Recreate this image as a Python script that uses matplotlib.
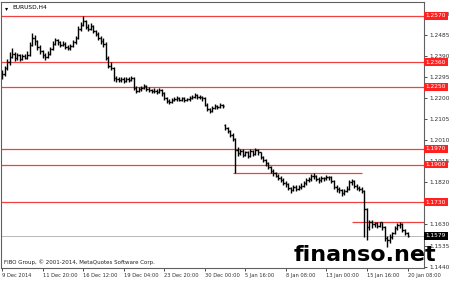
import numpy as np
import matplotlib
matplotlib.use("Agg")
import matplotlib.pyplot as plt
from matplotlib import transforms

# EURUSD H4 bars, 9 Dec 2014 .. 20 Jan 2015
closes = [
    1.2310, 1.2335, 1.2360, 1.2385, 1.2398,
    1.2380, 1.2392, 1.2375, 1.2388, 1.2382, 1.2395,
    1.2440, 1.2470, 1.2455, 1.2430,
    1.2410, 1.2395, 1.2385, 1.2400,
    1.2420, 1.2445, 1.2460, 1.2450,
    1.2440, 1.2445, 1.2430, 1.2425, 1.2432,
    1.2450, 1.2470, 1.2510, 1.2530, 1.2545, 1.2520,
    1.2510, 1.2525, 1.2500, 1.2490, 1.2470, 1.2455, 1.2445,
    1.2380, 1.2345, 1.2335,
    1.2290,
    1.2285, 1.2280, 1.2285, 1.2278, 1.2283, 1.2280, 1.2288,
    1.2245, 1.2232,
    1.2238, 1.2245, 1.2252, 1.2240, 1.2235, 1.2230,
    1.2232, 1.2228, 1.2235, 1.2220,
    1.2200, 1.2185, 1.2182, 1.2190,
    1.2195, 1.2200, 1.2192, 1.2198,
    1.2190, 1.2193, 1.2200, 1.2205, 1.2212, 1.2202,
    1.2205, 1.2198,
    1.2170, 1.2150, 1.2140, 1.2155,
    1.2165, 1.2160, 1.2168, 1.2163,
    1.2065, 1.2050, 1.2035, 1.2015,
    1.1965, 1.1950, 1.1960,
    1.1945, 1.1955, 1.1940, 1.1960, 1.1948, 1.1965, 1.1955,
    1.1935, 1.1920,
    1.1905, 1.1890, 1.1870,
    1.1860, 1.1850, 1.1840, 1.1830, 1.1818, 1.1812,
    1.1795, 1.1785, 1.1800, 1.1792, 1.1798, 1.1805,
    1.1815, 1.1830, 1.1835, 1.1850, 1.1848,
    1.1835, 1.1830, 1.1840, 1.1838, 1.1845, 1.1842, 1.1825,
    1.1800, 1.1790, 1.1785, 1.1770, 1.1780, 1.1790,
    1.1820, 1.1825,
    1.1805, 1.1795, 1.1790, 1.1780,
    1.1700, 1.1620,
    1.1640, 1.1630,
    1.1638, 1.1625, 1.1640, 1.1620,
    1.1570, 1.1560,
    1.1575, 1.1590,
    1.1615, 1.1628, 1.1632,
    1.1605, 1.1590, 1.1579,
]
highs = [
    1.2325, 1.2345, 1.2375, 1.2405, 1.2425,
    1.2408, 1.2402, 1.2398, 1.2396, 1.2400, 1.2410,
    1.2452, 1.2492, 1.2482, 1.2462,
    1.2438, 1.2415, 1.2402, 1.2410,
    1.2430, 1.2455, 1.2472, 1.2466,
    1.2458, 1.2455, 1.2450, 1.2438, 1.2442,
    1.2460, 1.2480, 1.2522, 1.2540, 1.2569, 1.2552,
    1.2532, 1.2538, 1.2530, 1.2508, 1.2495, 1.2478, 1.2468,
    1.2450, 1.2390, 1.2360,
    1.2340,
    1.2300, 1.2294, 1.2295, 1.2292, 1.2293, 1.2296, 1.2300,
    1.2292, 1.2252,
    1.2248, 1.2255, 1.2262, 1.2258, 1.2248, 1.2242,
    1.2245, 1.2240, 1.2244, 1.2240,
    1.2225, 1.2205, 1.2195, 1.2200,
    1.2205, 1.2210, 1.2206, 1.2206,
    1.2202, 1.2200, 1.2208, 1.2212, 1.2220, 1.2216,
    1.2212, 1.2210,
    1.2202, 1.2175, 1.2156, 1.2162,
    1.2172, 1.2170, 1.2175, 1.2172,
    1.2082, 1.2070, 1.2055, 1.2040,
    1.2020, 1.1978, 1.1972,
    1.1968, 1.1962, 1.1960, 1.1970, 1.1966, 1.1975, 1.1970,
    1.1958, 1.1940,
    1.1925, 1.1910, 1.1895,
    1.1878, 1.1868, 1.1858, 1.1848, 1.1838, 1.1825,
    1.1815, 1.1800, 1.1810, 1.1808, 1.1806, 1.1815,
    1.1825, 1.1840, 1.1845, 1.1858, 1.1862,
    1.1855, 1.1842, 1.1848, 1.1846, 1.1852, 1.1850, 1.1848,
    1.1830, 1.1808, 1.1800, 1.1792, 1.1790, 1.1805,
    1.1830, 1.1835,
    1.1830, 1.1812, 1.1805, 1.1798,
    1.1785, 1.1705,
    1.1650, 1.1648,
    1.1643, 1.1642, 1.1643, 1.1642,
    1.1625, 1.1578,
    1.1585, 1.1598,
    1.1625, 1.1636, 1.1640,
    1.1636, 1.1610, 1.1595,
]
lows = [
    1.2285, 1.2300, 1.2325, 1.2350, 1.2378,
    1.2368, 1.2372, 1.2365, 1.2370, 1.2374, 1.2376,
    1.2390, 1.2432, 1.2440, 1.2418,
    1.2398, 1.2380, 1.2372, 1.2378,
    1.2395, 1.2415, 1.2438, 1.2440,
    1.2430, 1.2432, 1.2420, 1.2415, 1.2418,
    1.2428, 1.2445, 1.2465, 1.2500, 1.2525, 1.2510,
    1.2500, 1.2505, 1.2492, 1.2478, 1.2460, 1.2445, 1.2430,
    1.2370, 1.2335, 1.2325,
    1.2276,
    1.2272, 1.2270, 1.2272, 1.2268, 1.2270, 1.2272, 1.2274,
    1.2235, 1.2222,
    1.2225, 1.2230, 1.2238, 1.2230, 1.2225, 1.2220,
    1.2222, 1.2218, 1.2222, 1.2210,
    1.2190, 1.2176, 1.2174, 1.2178,
    1.2184, 1.2188, 1.2184, 1.2186,
    1.2182, 1.2184, 1.2188, 1.2194, 1.2198, 1.2194,
    1.2195, 1.2188,
    1.2162, 1.2142, 1.2130, 1.2136,
    1.2150, 1.2152, 1.2156, 1.2156,
    1.2055, 1.2040, 1.2025, 1.2008,
    1.1861, 1.1940, 1.1942,
    1.1935, 1.1938, 1.1930, 1.1935, 1.1940, 1.1942, 1.1945,
    1.1925, 1.1910,
    1.1895, 1.1878, 1.1860,
    1.1850, 1.1842, 1.1830, 1.1820, 1.1808, 1.1800,
    1.1785, 1.1772, 1.1780, 1.1782, 1.1785, 1.1790,
    1.1800, 1.1808, 1.1822, 1.1828, 1.1836,
    1.1825, 1.1818, 1.1822, 1.1826, 1.1830, 1.1832, 1.1815,
    1.1790, 1.1778, 1.1770, 1.1758, 1.1762, 1.1775,
    1.1785, 1.1808,
    1.1795, 1.1785, 1.1780, 1.1770,
    1.1574, 1.1560,
    1.1605, 1.1615,
    1.1620, 1.1612, 1.1618, 1.1605,
    1.1555, 1.1529,
    1.1548, 1.1565,
    1.1585, 1.1605, 1.1615,
    1.1598, 1.1582, 1.1572,
]
first_open = 1.2295
gap_opens = {88: 1.2078}  # new-year gap

x_ticks = [0, 16, 32, 48, 64, 80, 96, 112, 128, 144, 160]
x_labels = ["9 Dec 2014", "11 Dec 20:00", "16 Dec 12:00", "19 Dec 04:00",
            "23 Dec 20:00", "30 Dec 00:00", "5 Jan 16:00", "8 Jan 08:00",
            "13 Jan 00:00", "15 Jan 16:00", "20 Jan 08:00"]
y_ticks = [1.2580, 1.2485, 1.2390, 1.2295, 1.2200, 1.2105, 1.2010,
           1.1915, 1.1820, 1.1725, 1.1630, 1.1535, 1.1440]
hidden_ticks = [1.1725]  # sits fully under the 1.1730 marker

levels = [1.2570, 1.2360, 1.2250, 1.1970, 1.1900, 1.1730]
short_levels = [(1.1861, 91.3, 142.1), (1.1643, 138.2, 166.5)]
last_price = 1.1579

opens = [first_open] + closes[:-1]
for k, v in gap_opens.items():
    opens[k] = v

x = np.arange(len(closes))

fig = plt.figure(figsize=(4.5, 2.82), dpi=100)
ax = fig.add_axes([0.0022, 0.0496, 0.94, 0.9433])
ax.set_xlim(-0.4, 166.5)
ax.set_ylim(1.1434, 1.2632)

red = "#f04040"
for lv in levels:
    ax.axhline(lv, color=red, lw=0.9, zorder=1)
for lv, x0, x1 in short_levels:
    ax.hlines(lv, x0, x1, color=red, lw=0.9, zorder=1)
ax.axhline(last_price, color="#b8b8b8", lw=0.7, zorder=1)

# OHLC bars
ax.vlines(x, lows, highs, color="black", lw=1.0, zorder=2)
ax.hlines(opens, x - 0.5, x, color="black", lw=1.0, zorder=2)
ax.hlines(closes, x, x + 0.5, color="black", lw=1.0, zorder=2)

for s in ax.spines.values():
    s.set_color("#606060")
    s.set_linewidth(0.8)

ax.yaxis.tick_right()
ax.set_yticks(y_ticks)
ax.set_yticklabels(["" if v in hidden_ticks else "%.4f" % v for v in y_ticks])
ax.tick_params(axis="y", length=2, width=0.6, pad=2, labelsize=4.2, colors="#303030")
ax.set_xticks(x_ticks)
ax.set_xticklabels(x_labels, ha="left")
ax.tick_params(axis="x", length=2, width=0.6, pad=1.5, labelsize=3.7, colors="#303030")

tr = transforms.blended_transform_factory(ax.transAxes, ax.transData)
for lv in levels:
    ax.text(1.004, lv, "%.4f" % lv, transform=tr, ha="left", va="center",
            fontsize=4.2, color="white", clip_on=False, zorder=5,
            bbox=dict(boxstyle="square,pad=0.25", fc="#ff2020", ec="none"))
ax.text(1.004, last_price, "%.4f" % last_price, transform=tr, ha="left", va="center",
        fontsize=4.2, color="white", clip_on=False, zorder=5,
        bbox=dict(boxstyle="square,pad=0.25", fc="black", ec="none"))

ax.text(0.01, 0.985, "\u25be", transform=ax.transAxes, fontsize=4.5, va="top", ha="left")
ax.text(0.028, 0.988, "EURUSD,H4", transform=ax.transAxes, fontsize=4.2, va="top", ha="left")
ax.text(0.008, 0.012, "FIBO Group, \u00a9 2001-2014, MetaQuotes Software Corp.",
        transform=ax.transAxes, fontsize=4.0, va="bottom", ha="left", color="#202020")

fig.text(294 / 450, 1 - 261 / 282, "finanso.net", fontsize=16, fontweight="bold",
         ha="left", va="baseline", color="black", zorder=10)

fig.savefig("out.png", dpi=100, facecolor="white")
